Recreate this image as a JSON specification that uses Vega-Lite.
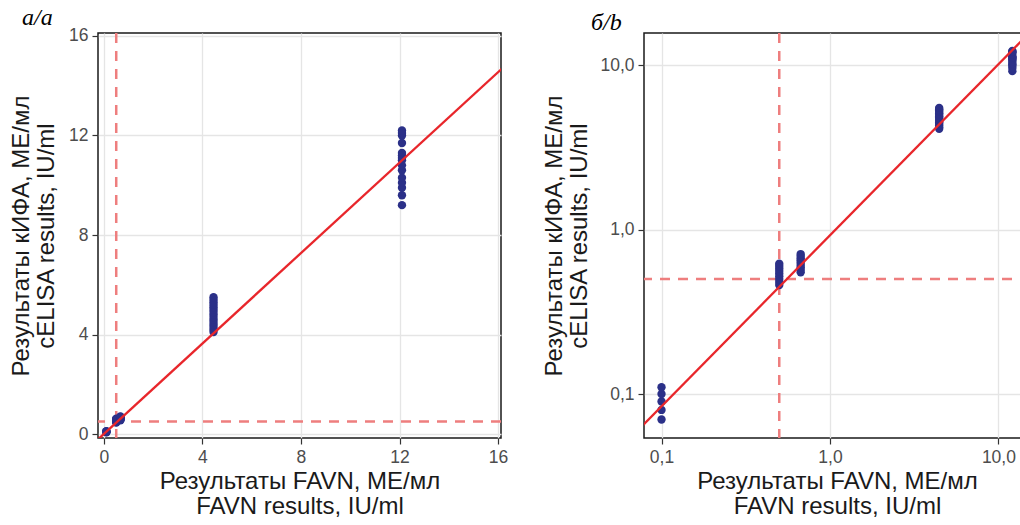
{
  "$schema": "https://vega.github.io/schema/vega-lite/v6.json",
  "background": "white",
  "padding": {"left": 8, "top": 5, "right": 0, "bottom": 0},
  "spacing": 33,
  "config": {
    "font": "Liberation Sans",
    "view": {"stroke": "#1a1a1a", "strokeWidth": 1.5},
    "axis": {
      "domain": false, "grid": true, "gridColor": "#e5e5e5", "gridWidth": 1.3,
      "tickColor": "#333333", "tickSize": 6, "tickWidth": 1.2,
      "labelFont": "Liberation Sans", "labelFontSize": 17.5, "labelColor": "#4d4d4d", "labelPadding": 4,
      "titleFont": "Liberation Sans", "titleFontSize": 24, "titleFontWeight": "normal", "titleColor": "#1a1a1a", "titleLineHeight": 25
    },
    "title": {"font": "Liberation Serif", "fontStyle": "italic", "fontSize": 24, "fontWeight": "normal", "anchor": "start", "frame": "group", "color": "#000000"}
  },
  "datasets": {
    "pts": [
      {"x": 0.1, "y": 0.07}, {"x": 0.1, "y": 0.08}, {"x": 0.1, "y": 0.09}, {"x": 0.1, "y": 0.1}, {"x": 0.1, "y": 0.11},
      {"x": 0.5, "y": 0.46}, {"x": 0.5, "y": 0.48}, {"x": 0.5, "y": 0.5}, {"x": 0.5, "y": 0.52}, {"x": 0.5, "y": 0.54}, {"x": 0.5, "y": 0.56}, {"x": 0.5, "y": 0.58}, {"x": 0.5, "y": 0.6}, {"x": 0.5, "y": 0.62},
      {"x": 0.67, "y": 0.55}, {"x": 0.67, "y": 0.57}, {"x": 0.67, "y": 0.59}, {"x": 0.67, "y": 0.61}, {"x": 0.67, "y": 0.63}, {"x": 0.67, "y": 0.65}, {"x": 0.67, "y": 0.67}, {"x": 0.67, "y": 0.69}, {"x": 0.67, "y": 0.71},
      {"x": 4.45, "y": 4.1}, {"x": 4.45, "y": 4.2}, {"x": 4.45, "y": 4.3}, {"x": 4.45, "y": 4.4}, {"x": 4.45, "y": 4.5}, {"x": 4.45, "y": 4.6}, {"x": 4.45, "y": 4.7}, {"x": 4.45, "y": 4.8}, {"x": 4.45, "y": 4.9}, {"x": 4.45, "y": 5.0}, {"x": 4.45, "y": 5.1}, {"x": 4.45, "y": 5.2}, {"x": 4.45, "y": 5.3}, {"x": 4.45, "y": 5.4}, {"x": 4.45, "y": 5.5},
      {"x": 12.1, "y": 9.2}, {"x": 12.1, "y": 9.6}, {"x": 12.1, "y": 9.9}, {"x": 12.1, "y": 10.1}, {"x": 12.1, "y": 10.3}, {"x": 12.1, "y": 10.6}, {"x": 12.1, "y": 10.8}, {"x": 12.1, "y": 11.0}, {"x": 12.1, "y": 11.1}, {"x": 12.1, "y": 11.2}, {"x": 12.1, "y": 11.3}, {"x": 12.1, "y": 11.7}, {"x": 12.1, "y": 12.0}, {"x": 12.1, "y": 12.1}, {"x": 12.1, "y": 12.2}
    ],
    "lineLin": [{"x": -0.3, "y": -0.27}, {"x": 16.5, "y": 15.0}],
    "lineLog": [{"x": 0.07, "y": 0.0581}, {"x": 16, "y": 16.5}],
    "vref": [{"x": 0.5}],
    "href": [{"y": 0.5}]
  },
  "hconcat": [
    {
      "width": 403, "height": 405,
      "title": {"text": "а/a", "dx": -76, "offset": -3},
      "layer": [
        {
          "data": {"name": "vref"},
          "mark": {"type": "rule", "color": "#ee7e7e", "strokeWidth": 2.5, "strokeDash": [10, 8]},
          "encoding": {
            "x": {"field": "x", "type": "quantitative", "scale": {"domain": [-0.24, 16.12], "nice": false, "zero": false},
                  "axis": {"values": [0, 4, 8, 12, 16], "title": ["Результаты FAVN, МЕ/мл", "FAVN results, IU/ml"], "titlePadding": 4}}
          }
        },
        {
          "data": {"name": "href"},
          "mark": {"type": "rule", "color": "#ee7e7e", "strokeWidth": 2.5, "strokeDash": [10, 8]},
          "encoding": {
            "y": {"field": "y", "type": "quantitative", "scale": {"domain": [-0.16, 16.12], "nice": false, "zero": false},
                  "axis": {"values": [0, 4, 8, 12, 16], "title": ["Результаты кИФА, МЕ/мл", "cELISA results, IU/ml"], "titlePadding": 10}}
          }
        },
        {
          "data": {"name": "pts"},
          "mark": {"type": "circle", "size": 70, "opacity": 1, "color": "#2b3088"},
          "encoding": {
            "x": {"field": "x", "type": "quantitative"},
            "y": {"field": "y", "type": "quantitative"}
          }
        },
        {
          "data": {"name": "lineLin"},
          "mark": {"type": "line", "color": "#e8262b", "strokeWidth": 2.3, "clip": true},
          "encoding": {
            "x": {"field": "x", "type": "quantitative"},
            "y": {"field": "y", "type": "quantitative"}
          }
        }
      ]
    },
    {
      "width": 386, "height": 405,
      "title": {"text": "б/b", "dx": -53, "offset": -3},
      "layer": [
        {
          "data": {"name": "vref"},
          "mark": {"type": "rule", "color": "#ee7e7e", "strokeWidth": 2.5, "strokeDash": [10, 8]},
          "encoding": {
            "x": {"field": "x", "type": "quantitative", "scale": {"type": "log", "domain": [0.0787, 15.4], "nice": false},
                  "axis": {"values": [0.1, 1, 10], "labelExpr": "replace(format(datum.value, '.1f'), '.', ',')", "title": ["Результаты FAVN, МЕ/мл", "FAVN results, IU/ml"], "titlePadding": 4}}
          }
        },
        {
          "data": {"name": "href"},
          "mark": {"type": "rule", "color": "#ee7e7e", "strokeWidth": 2.5, "strokeDash": [10, 8]},
          "encoding": {
            "y": {"field": "y", "type": "quantitative", "scale": {"type": "log", "domain": [0.054, 15.7], "nice": false},
                  "axis": {"values": [0.1, 1, 10], "labelExpr": "replace(format(datum.value, '.1f'), '.', ',')", "title": ["Результаты кИФА, МЕ/мл", "cELISA results, IU/ml"], "titlePadding": 8}}
          }
        },
        {
          "data": {"name": "pts"},
          "mark": {"type": "circle", "size": 70, "opacity": 1, "color": "#2b3088"},
          "encoding": {
            "x": {"field": "x", "type": "quantitative"},
            "y": {"field": "y", "type": "quantitative"}
          }
        },
        {
          "data": {"name": "lineLog"},
          "mark": {"type": "line", "color": "#e8262b", "strokeWidth": 2.3, "clip": true},
          "encoding": {
            "x": {"field": "x", "type": "quantitative"},
            "y": {"field": "y", "type": "quantitative"}
          }
        }
      ]
    }
  ]
}
